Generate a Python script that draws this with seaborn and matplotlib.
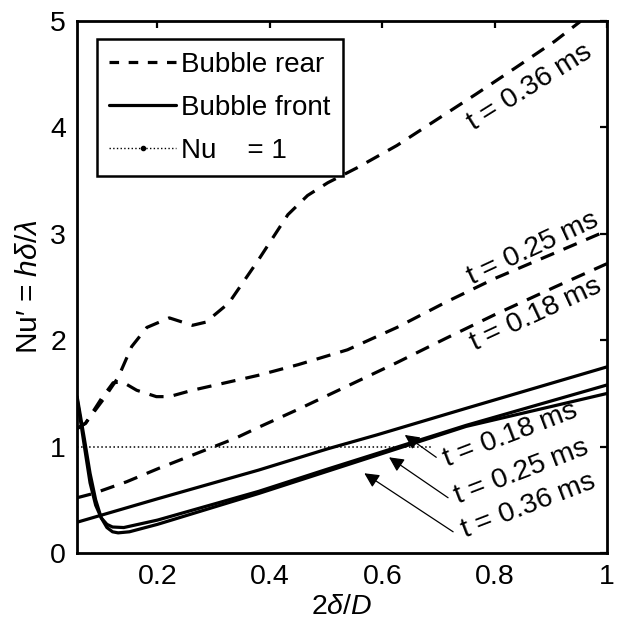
import matplotlib
matplotlib.use("Agg")
import matplotlib.pyplot as plt
from matplotlib.lines import Line2D
import seaborn as sns
import pandas as pd

# ---- data ----
x_rear_036 = [0.057, 0.072, 0.103, 0.13, 0.154, 0.181, 0.221, 0.262, 0.286, 0.327, 0.379,
              0.432, 0.467, 0.503, 0.555, 0.626, 0.696, 0.766, 0.837, 0.907, 0.951, 0.96]
y_rear_036 = [1.17, 1.22, 1.44, 1.65, 1.94, 2.12, 2.21, 2.14, 2.17, 2.35, 2.75,
              3.18, 3.36, 3.48, 3.62, 3.83, 4.07, 4.31, 4.56, 4.81, 4.99, 5.05]

x_rear_025 = [0.057, 0.072, 0.10, 0.121, 0.137, 0.163, 0.198, 0.221, 0.262, 0.304, 0.379,
              0.45, 0.538, 0.626, 0.714, 0.80, 0.907, 1.0]
y_rear_025 = [1.17, 1.22, 1.45, 1.60, 1.61, 1.53, 1.47, 1.47, 1.53, 1.58, 1.67,
              1.77, 1.91, 2.12, 2.36, 2.58, 2.82, 3.03]

x_rear_018 = [0.057, 0.086, 0.145, 0.204, 0.286, 0.339, 0.379, 0.45, 0.538, 0.626, 0.714,
              0.80, 0.907, 1.0]
y_rear_018 = [0.52, 0.56, 0.67, 0.80, 0.97, 1.08, 1.18, 1.35, 1.57, 1.79, 2.02,
              2.24, 2.50, 2.72]

x_front_018 = [0.057, 0.2, 0.38, 0.503, 0.59, 0.749, 1.0]
y_front_018 = [0.29, 0.51, 0.78, 0.98, 1.11, 1.36, 1.75]

x_front_025 = [0.057, 0.07, 0.08, 0.09, 0.10, 0.11, 0.12, 0.14, 0.2, 0.38, 0.503, 0.749, 1.0]
y_front_025 = [1.45, 1.00, 0.66, 0.45, 0.33, 0.27, 0.245, 0.24, 0.31, 0.58, 0.79, 1.20, 1.58]

x_front_036 = [0.057, 0.07, 0.08, 0.09, 0.10, 0.11, 0.12, 0.13, 0.15, 0.2, 0.38, 0.503, 0.749, 1.0]
y_front_036 = [1.47, 1.07, 0.75, 0.50, 0.33, 0.24, 0.20, 0.19, 0.20, 0.27, 0.56, 0.77, 1.19, 1.50]

x_nu1 = [0.057, 0.69]
y_nu1 = [1.0, 1.0]

legend_labels = ["Bubble rear", "Bubble front", "Nu    = 1"]
x_ticks = [0.2, 0.4, 0.6, 0.8, 1.0]
x_tick_labels = ["0.2", "0.4", "0.6", "0.8", "1"]
y_ticks = [0, 1, 2, 3, 4, 5]

rear_labels = ["$t$ = 0.36 ms", "$t$ = 0.25 ms", "$t$ = 0.18 ms"]
rear_label_pos = [(0.862, 4.37), (0.868, 2.86), (0.873, 2.24)]
rear_label_rot = [32, 25, 25]

front_labels = ["$t$ = 0.18 ms", "$t$ = 0.25 ms", "$t$ = 0.36 ms"]
front_label_pos = [(0.828, 1.11), (0.848, 0.76), (0.860, 0.44)]
front_arrow_tail = [(0.696, 0.90), (0.717, 0.52), (0.726, 0.20)]
front_arrow_head = [(0.640, 1.11), (0.612, 0.90), (0.568, 0.75)]

# ---- style ----
sns.set_theme(style="white")
plt.rcParams["font.family"] = ["Liberation Sans", "DejaVu Sans"]
plt.rcParams["mathtext.fontset"] = "custom"
plt.rcParams["mathtext.rm"] = "Liberation Sans"
plt.rcParams["mathtext.it"] = "Liberation Sans:italic"
plt.rcParams["mathtext.default"] = "regular"
plt.rcParams["text.color"] = "black"
plt.rcParams["axes.labelcolor"] = "black"
plt.rcParams["xtick.color"] = "black"
plt.rcParams["ytick.color"] = "black"

FS = 20.5

fig, ax = plt.subplots(figsize=(6.17, 6.35), dpi=100)
fig.subplots_adjust(left=0.125, right=0.984, bottom=0.129, top=0.967)

LW = 2.3
DASH = (4.5, 3.2)

def draw(x, y, **kw):
    df = pd.DataFrame({"x": x, "y": y})
    sns.lineplot(data=df, x="x", y="y", ax=ax, color="black", estimator=None,
                 sort=False, **kw)

for x, y in [(x_rear_036, y_rear_036), (x_rear_025, y_rear_025), (x_rear_018, y_rear_018)]:
    draw(x, y, linewidth=LW)
    ax.lines[-1].set_dashes(DASH)

for x, y in [(x_front_018, y_front_018), (x_front_025, y_front_025), (x_front_036, y_front_036)]:
    draw(x, y, linewidth=LW)

draw(x_nu1, y_nu1, linewidth=1.1)
ax.lines[-1].set_linestyle(":")

ax.set_xlim(0.057, 1.0)
ax.set_ylim(0, 5)
ax.set_xticks(x_ticks)
ax.set_xticklabels(x_tick_labels)
ax.set_yticks(y_ticks)
ax.tick_params(direction="in", top=True, right=True, length=5, width=1.6,
               labelsize=FS, colors="black", pad=8)
for s in ax.spines.values():
    s.set_linewidth(2.0)
    s.set_color("black")

ax.set_xlabel(r"2$\mathit{\delta}$/$\mathit{D}$", fontsize=FS, labelpad=3, color="black")
ax.set_ylabel("Nu\u2032 = " + r"$\mathit{h\delta}$/$\mathit{\lambda}$", fontsize=FS + 1,
              labelpad=5, color="black")

# annotation texts
for lab, (px, py), rot in zip(rear_labels, rear_label_pos, rear_label_rot):
    ax.text(px, py, lab, rotation=rot, rotation_mode="anchor", ha="center",
            va="center", fontsize=FS, color="black")

for lab, (px, py) in zip(front_labels, front_label_pos):
    ax.text(px, py, lab, rotation=21, rotation_mode="anchor", ha="center",
            va="center", fontsize=FS, color="black")

for (tx, ty), (hx, hy) in zip(front_arrow_tail, front_arrow_head):
    ax.annotate("", xy=(hx, hy), xytext=(tx, ty),
                arrowprops=dict(arrowstyle="-|>", color="black", lw=0.9,
                                mutation_scale=22, shrinkA=0, shrinkB=0))

handles = [
    Line2D([], [], color="black", lw=LW, dashes=(3.0, 3.0)),
    Line2D([], [], color="black", lw=LW),
    Line2D([], [], color="black", lw=1.0, ls=":", marker=".", markersize=6),
]
leg = ax.legend(handles, legend_labels, loc="upper left", bbox_to_anchor=(0.037, 0.966),
                borderaxespad=0, fontsize=FS - 0.5, handlelength=2.4, handletextpad=0.2,
                labelspacing=0.62, borderpad=0.45, frameon=True, fancybox=False,
                framealpha=1, edgecolor="black", numpoints=1)
leg.get_frame().set_linewidth(1.8)
for t in leg.get_texts():
    t.set_color("black")

fig.savefig("out.png", dpi=100)
